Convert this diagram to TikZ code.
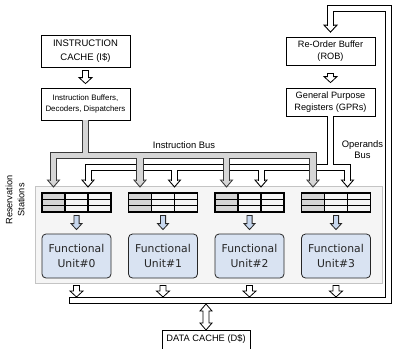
\documentclass[tikz,border=0pt]{standalone}
\usepackage{fontspec}
\setmainfont{Liberation Sans}
\newfontfamily\fufont{DejaVu Sans}
\usetikzlibrary{calc}

\definecolor{busgray}{HTML}{D6D6D6}
\definecolor{busedge}{HTML}{3A3A3A}
\definecolor{cellgray}{HTML}{D4D4D4}
\definecolor{fublue}{HTML}{D9E3F2}
\definecolor{arrblue}{HTML}{C7D7EE}
\definecolor{panelfill}{HTML}{F5F5F5}
\definecolor{paneledge}{HTML}{C4C4C4}

% block arrow pointing down: style, shaft half width, head half width, head length, start, tip
\newcommand\blockdownarrow[6]{%
  \filldraw[#1] let \p1=(#5), \p2=(#6) in
    (\x1-#2,\y1) -- (\x1+#2,\y1) -- (\x1+#2,\y2+#4) -- (\x1+#3,\y2+#4)
    -- (\x1,\y2) -- (\x1-#3,\y2+#4) -- (\x1-#2,\y2+#4) -- cycle;}

% triangular head at the end of a bus: style, half width, length, tip
\newcommand\bushead[4]{%
  \filldraw[#1] let \p1=(#4) in
    (\x1-#2,\y1+#3) -- (\x1+#2,\y1+#3) -- (\x1,\y1) -- cycle;}

% two-way block arrow: upper tip, lower tip
\newcommand\blockbothways[2]{%
  \filldraw[hollow] let \p1=(#1), \p2=(#2) in
    (\x1,\y1) -- (\x1+6pt,\y1-7pt) -- (\x1+3pt,\y1-7pt) -- (\x1+3pt,\y2+7pt)
    -- (\x1+6pt,\y2+7pt) -- (\x1,\y2) -- (\x1-6pt,\y2+7pt) -- (\x1-3pt,\y2+7pt)
    -- (\x1-3pt,\y1-7pt) -- (\x1-6pt,\y1-7pt) -- cycle;}

\begin{document}
\begin{tikzpicture}[x=1pt,y=-1pt,
  unitbox/.style={draw=black, line width=0.8pt, fill=white, minimum width=89pt,
                  align=center, inner sep=0pt},
  hollow/.style={draw=black, line width=0.8pt, fill=white, line join=miter},
  bluearrow/.style={draw=black!85, line width=0.8pt, fill=arrblue, line join=miter},
  panel/.style={draw=paneledge, line width=0.6pt, fill=panelfill,
                minimum width=347pt, minimum height=97pt, inner sep=0pt},
  rstable/.style={draw=black, line width=1.1pt, minimum width=69pt,
                  minimum height=19pt, inner sep=0pt},
  tabgrid/.style={draw=black, line width=1.1pt},
  fu/.style={draw=black!85, line width=0.8pt, fill=fublue, rounded corners=4pt,
             minimum width=69pt, minimum height=44pt, inner sep=0pt, align=center,
             font=\fufont\fontsize{10.8}{14.5}\selectfont, text=black!85},
  lbl/.style={font=\fontsize{9.4}{11}\selectfont, inner sep=0pt, align=center},
  ihead/.style={draw=busedge, line width=0.9pt, fill=busgray, line join=miter},
  ohead/.style={draw=black, line width=0.9pt, fill=white, line join=miter},
  ibus/.style={preaction={draw=busedge, line width=7.4pt, line join=miter, line cap=butt},
               draw=busgray, line width=5.6pt, line join=miter, line cap=butt},
  obus/.style={preaction={draw=black, line width=7pt, line join=miter, line cap=butt},
               draw=white, line width=5pt, line join=miter, line cap=butt},
  wbusout/.style={draw=black, line width=7pt, line join=miter, line cap=butt},
  wbusin/.style={draw=white, line width=5pt, line join=miter, line cap=butt}]

\useasboundingbox (0,0) rectangle (395,348);
\clip (0,0) rectangle (395,348);

% reservation station panel
\node[panel] (rsp) at (208.5,234.5) {};
\node[lbl, rotate=90, font=\fontsize{9.2}{12}\selectfont] (rslabel) at (15,200)
  {Reservation\\Stations};

% front end and register side
\node[unitbox, minimum height=32pt, font=\fontsize{9.5}{13.5}\selectfont] (icache)
  at (85.5,51) {INSTRUCTION\\CACHE (I\$)};
\node[unitbox, minimum height=32pt, font=\fontsize{7.9}{10.5}\selectfont] (ibuf)
  at (85.5,104) {Instruction Buffers,\\Decoders, Dispatchers};
\node[unitbox, minimum height=28pt, font=\fontsize{9.2}{12}\selectfont] (rob)
  at (330.5,51) {Re-Order Buffer\\(ROB)};
\node[unitbox, minimum height=28pt, font=\fontsize{9.2}{11.5}\selectfont] (gpr)
  at (330.5,102) {General Purpose\\Registers (GPRs)};

\blockdownarrow{hollow}{3pt}{6.5pt}{6pt}{[yshift=-3pt]icache.south}{[yshift=4pt]ibuf.north}
\blockdownarrow{hollow}{3pt}{6.5pt}{6pt}{[yshift=-8pt]rob.south}{[yshift=5pt]gpr.north}

% reservation tables and functional units
\foreach \i/\xo in {0/42,1/128.5,2/215,3/301.5}{
  \fill[cellgray] (\xo,193) rectangle ({\xo+23},212);
  \node[rstable] (rs\i) at ({\xo+34.5},202.5) {};
  \draw[tabgrid] (\xo,199.33) -- ({\xo+69},199.33) (\xo,205.67) -- ({\xo+69},205.67)
     ({\xo+23},193) -- ({\xo+23},212) ({\xo+46},193) -- ({\xo+46},212);
  \node[fu] (fu\i) at ({\xo+34.5},256) {Functional\\Unit\#\i};
  \coordinate (in\i) at ({\xo+11.5},187);
  \coordinate (op\i) at ({\xo+46},187);
  \blockdownarrow{bluearrow}{2.6pt}{5.5pt}{6pt}{[yshift=-3pt]rs\i.south}{[yshift=4pt]fu\i.north}
}

% bus levels
\coordinate (ib) at (0,155.5);
\coordinate (ob) at (0,167.5);
\coordinate (hd) at (0,180.6);

% operands bus
\foreach \i in {0,1,2,3}{\bushead{ohead}{6pt}{7pt}{op\i}}
\draw[obus] (gpr.south) -- (gpr.south |- ob)
  (op0 |- hd) -- (op0 |- ob) -- (op3 |- ob) -- (op3 |- hd)
  (op1 |- ob) -- (op1 |- hd) (op2 |- ob) -- (op2 |- hd);
\node[lbl] (oblabel) at (362.5,150) {Operands\\Bus};

% instruction bus
\foreach \i in {0,1,2,3}{\bushead{ihead}{6pt}{7pt}{in\i}}
\draw[ibus] (ibuf.south) -- (ibuf.south |- ib)
  (in0 |- hd) -- (in0 |- ib) -- (in3 |- ib) -- (in3 |- hd)
  (in1 |- ib) -- (in1 |- hd) (in2 |- ib) -- (in2 |- hd);
\node[lbl] (iblabel) at (184,145) {Instruction Bus};

% result bus feeding back to the re-order buffer
\coordinate (dbL) at (70,300.5);
\coordinate (dbR) at (388.5,300.5);
\coordinate (fbT) at (388.5,8.5);
\coordinate (robtip) at ([yshift=4.5pt]rob.north);
\coordinate (dbT) at (0,297);
\coordinate (dbB) at (0,304);
\bushead{ohead}{6.5pt}{7pt}{robtip}
\draw[wbusout] ([xshift=-1pt]dbL) -- (dbR) -- (fbT) -- (robtip |- fbT) -- ([yshift=6.4pt]robtip);
\draw[wbusin] (dbL) -- (dbR) -- (fbT) -- (robtip |- fbT) -- ([yshift=6.4pt]robtip);

\foreach \i in {0,1,2,3}{
  \blockdownarrow{hollow}{3pt}{6.5pt}{6pt}{[yshift=-7pt]fu\i.south}{fu\i.south |- dbT}
}

% data cache
\node[unitbox, minimum width=88pt, minimum height=28pt, anchor=north] (dcache)
  at (206,330) {};
\node[lbl, font=\fontsize{9.3}{11}\selectfont] (dctext) at (206,339.5) {DATA CACHE (D\$)};
\blockbothways{dcache.north |- dbB}{dcache.north}

\end{tikzpicture}
\end{document}
